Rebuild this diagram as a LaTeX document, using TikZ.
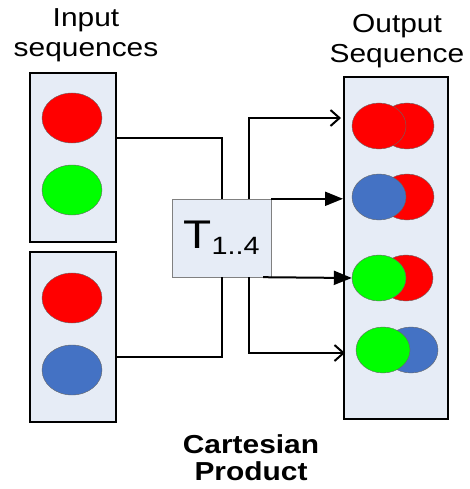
\documentclass[tikz,border=0pt]{standalone}
\usepackage{fontspec}
\newfontfamily\labelfont[FakeStretch=1.15]{Liberation Sans}
\usepackage{tikz}
\usetikzlibrary{arrows.meta, positioning, shapes.geometric}
\definecolor{seqfill}{RGB}{230,236,246}
\definecolor{ballred}{RGB}{255,0,0}
\definecolor{ballgreen}{RGB}{0,255,0}
\definecolor{ballblue}{RGB}{68,114,196}

\begin{document}
\begin{tikzpicture}[x=1pt, y=-1pt,
    seqbox/.style={draw, line width=2pt, fill=seqfill, inner sep=0pt},
    ball/.style={ellipse, draw=black!60, line width=0.4pt, inner sep=0pt,
      minimum width=60pt, minimum height=50pt},
    pair/.style={ball, minimum width=54pt, minimum height=46pt},
    wire/.style={line width=2pt},
    open/.style={wire, -{Straight Barb[length=9pt, width=16pt]}},
    solid/.style={wire, -{Triangle[length=18pt, width=14pt]}},
    title/.style={font=\labelfont\fontsize{26}{30}\selectfont, align=center, inner sep=0pt}]
  \useasboundingbox (0,0) rectangle (470,489);

  % input sequences
  \node[seqbox, minimum width=86pt, minimum height=169pt] (in1) at (73,157.5) {};
  \node[ball, fill=ballred] (in1a) at (72,118) {};
  \node[ball, fill=ballgreen] (in1b) at (72,190) {};
  \node[seqbox, minimum width=86pt, minimum height=170pt] (in2) at (73,337) {};
  \node[ball, fill=ballred] (in2a) at (72,298) {};
  \node[ball, fill=ballblue] (in2b) at (72,370) {};
  \node[title, anchor=base] (inTitle) at (86,57) {Input\\sequences};

  % product operator
  \node[draw=gray, fill=seqfill, inner sep=0pt, minimum width=99pt, minimum height=78pt] (T) at (221.5,238)
    {{\labelfont\fontsize{40}{40}\selectfont T}{\labelfont\fontsize{25}{25}\selectfont\raisebox{-6pt}{1..4}}};

  % output sequence
  \node[seqbox, minimum width=104pt, minimum height=342pt] (out) at (396,248) {};
  \node[pair, fill=ballred] (o1b) at (407,126) {};
  \node[pair, fill=ballred] (o1a) at (379,126) {};
  \node[pair, fill=ballred] (o2b) at (407,197) {};
  \node[pair, fill=ballblue] (o2a) at (379,197) {};
  \node[pair, fill=ballred] (o3b) at (406,278) {};
  \node[pair, fill=ballgreen] (o3a) at (379,278) {};
  \node[pair, fill=ballblue] (o4b) at (411,350) {};
  \node[pair, fill=ballgreen] (o4a) at (383,350) {};
  \node[title, anchor=base] (outTitle) at (397,63) {Output\\Sequence};

  % wiring
  \draw[wire] ([yshift=19.5pt]in1.east) -| (T.north);
  \draw[wire] ([yshift=-20pt]in2.east) -| (T.south);
  \coordinate (e1) at (341,118);
  \coordinate (e4) at (345,353);
  \draw[open] ([xshift=27pt]T.north) |- (e1);
  \draw[solid] (T.north east) -- (T.north east -| out.west);
  \draw[solid] ([xshift=-8pt]T.south east) -- (o3a.west);
  \draw[open] ([xshift=27.5pt]T.south) |- (e4);

  \node[title, font=\labelfont\bfseries\fontsize{26}{27}\selectfont, anchor=base] (cp) at (251,480) {Cartesian\\Product};
\end{tikzpicture}
\end{document}
